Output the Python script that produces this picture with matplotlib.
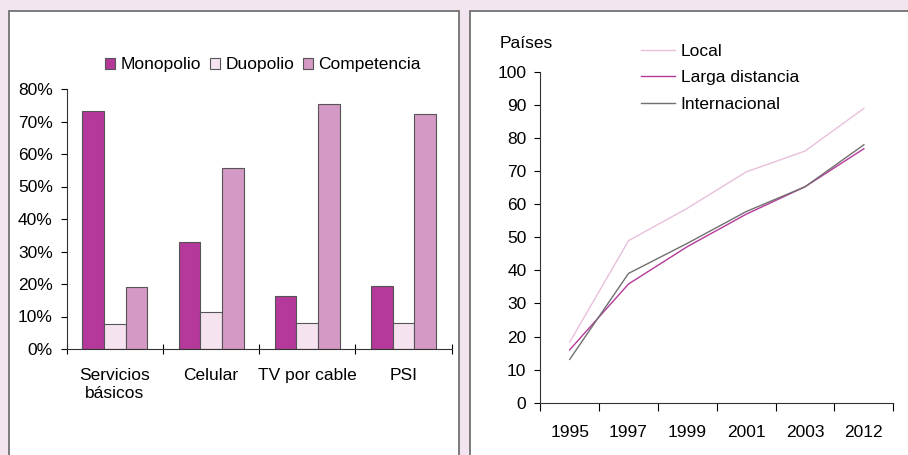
import matplotlib.pyplot as plt
from matplotlib.patches import Rectangle
import numpy as np

plt.rcParams['font.family'] = ['Liberation Sans', 'DejaVu Sans']
plt.rcParams['font.size'] = 12.5

# Left chart: market structure by service
services = ['Servicios\nbásicos', 'Celular', 'TV por cable', 'PSI']
monopolio = [73.3, 33.0, 16.2, 19.5]
duopolio = [7.6, 11.5, 8.1, 8.1]
competencia = [19.1, 55.6, 75.3, 72.4]

# Right chart: countries with competition
years = ['1995', '1997', '1999', '2001', '2003', '2012']
local = [18.3, 49.0, 58.8, 69.8, 76.1, 89.0]
larga_distancia = [16.0, 35.9, 47.2, 57.0, 65.3, 76.8]
internacional = [13.1, 39.1, 48.2, 57.8, 65.3, 78.0]

bg = '#f3e5f0'
magenta = '#b5399a'
pale = '#f5e4f0'
lilac = '#d499c4'

W, H = 908, 455
fig = plt.figure(figsize=(W / 100, H / 100), dpi=100, facecolor=bg)

# white panels with dark border
for x0, x1 in [(9, 459), (470, 912)]:
    fig.patches.append(Rectangle((x0 / W, -0.05), (x1 - x0) / W, 1.05 - 11 / H,
                                 transform=fig.transFigure, facecolor='white',
                                 edgecolor='#666666', linewidth=1.2, zorder=-5))

# ---- left: bars ----
ax1 = fig.add_axes([66.7 / W, 1 - 349 / H, 385 / W, 260 / H])
ax1.patch.set_alpha(0)
x = np.arange(len(services))
w = 0.225
for off, vals, col, lab in [(-w, monopolio, magenta, 'Monopolio'),
                            (0, duopolio, pale, 'Duopolio'),
                            (w, competencia, lilac, 'Competencia')]:
    ax1.bar(x + off, vals, width=w, color=col, edgecolor='#555555',
            linewidth=0.8, label=lab)
ax1.set_xlim(-0.5, len(services) - 0.5)
ax1.set_ylim(0, 80)
ax1.set_yticks(range(0, 81, 10))
ax1.set_yticklabels([f'{v}%' for v in range(0, 81, 10)])
ax1.set_xticks(x)
ax1.set_xticklabels(services, va='top')
ax1.set_xticks(np.arange(-0.5, len(services), 1), minor=True)
ax1.tick_params(axis='x', which='major', length=0, pad=14)
ax1.tick_params(axis='x', which='minor', direction='inout', length=7, width=0.8)
ax1.tick_params(axis='y', direction='out', length=4, width=0.8, pad=6)
for s in ['top', 'right']:
    ax1.spines[s].set_visible(False)
for s in ['left', 'bottom']:
    ax1.spines[s].set_color('#333333')
    ax1.spines[s].set_linewidth(0.8)
ax1.legend(loc='center', bbox_to_anchor=(263 / W, 1 - 65 / H),
           bbox_transform=fig.transFigure, ncol=3, frameon=False,
           handlelength=0.6, handleheight=0.6, handletextpad=0.3,
           columnspacing=0.5, borderpad=0)

# ---- right: lines ----
ax2 = fig.add_axes([540.3 / W, 1 - 402.7 / H, 353 / W, 330.7 / H])
ax2.patch.set_alpha(0)
xi = np.arange(len(years))
ax2.plot(xi, local, color='#e8c0dc', lw=1.0, label='Local')
ax2.plot(xi, larga_distancia, color=magenta, lw=1.0, label='Larga distancia')
ax2.plot(xi, internacional, color='#707070', lw=1.0, label='Internacional')
ax2.set_xlim(-0.5, len(years) - 0.5)
ax2.set_ylim(0, 100)
ax2.set_yticks(range(0, 101, 10))
ax2.set_xticks(xi)
ax2.set_xticklabels(years)
ax2.set_xticks(np.arange(-0.5, len(years), 1), minor=True)
ax2.tick_params(axis='x', which='major', length=0, pad=16)
ax2.tick_params(axis='x', which='minor', direction='out', length=6, width=0.8)
ax2.tick_params(axis='y', direction='out', length=4, width=0.8, pad=6)
for s in ['top', 'right']:
    ax2.spines[s].set_visible(False)
for s in ['left', 'bottom']:
    ax2.spines[s].set_color('#333333')
    ax2.spines[s].set_linewidth(0.8)
fig.text(500 / W, 1 - 43 / H, 'Países', ha='left', va='center')
ax2.legend(loc='upper left', bbox_to_anchor=(632 / W, 1 - 35 / H),
           bbox_transform=fig.transFigure, frameon=False,
           handlelength=2.0, handletextpad=0.3, labelspacing=0.66,
           borderpad=0)

fig.savefig('out.png', dpi=100, facecolor=bg)
